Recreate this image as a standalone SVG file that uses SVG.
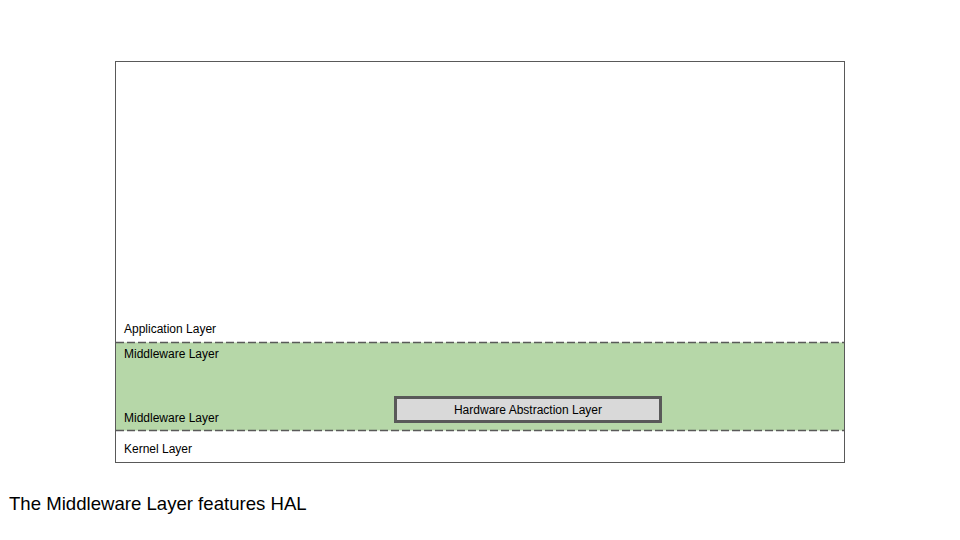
<svg xmlns="http://www.w3.org/2000/svg" width="960" height="540" viewBox="0 0 960 540">
<style>
.lbl{font-family:"Liberation Sans",Arial,sans-serif;font-size:12px;fill:#000}
.dash{stroke:#595959;stroke-width:1.3;stroke-dasharray:8 3;fill:none}
</style>
<rect width="960" height="540" fill="#fff"/>
<g id="outer">
<rect x="115.5" y="61.5" width="729" height="401" fill="#fff" stroke="#595959" stroke-width="1"/>
</g>
<g id="middleware">
<rect x="116" y="342.5" width="728" height="88" fill="#b6d7a8"/>
</g>
<g id="connectors">
<line class="dash" x1="116" y1="342.5" x2="844" y2="342.5"/>
<line class="dash" x1="116" y1="430.5" x2="844" y2="430.5"/>
</g>
<g id="application-label"><text class="lbl" x="124" y="333">Application Layer</text></g>
<g id="middleware-label-top"><text class="lbl" x="124" y="357.5">Middleware Layer</text></g>
<g id="middleware-label-bottom"><text class="lbl" x="124" y="421.5">Middleware Layer</text></g>
<g id="kernel-label"><text class="lbl" x="124" y="452.5">Kernel Layer</text></g>
<g id="hal">
<rect x="395.5" y="397.5" width="265" height="24" fill="#d9d9d9" stroke="#595959" stroke-width="3"/>
<text class="lbl" x="528" y="414" text-anchor="middle">Hardware Abstraction Layer</text>
</g>
<g id="caption"><text x="9" y="510" font-family="'Liberation Sans',Arial,sans-serif" font-size="18.6" fill="#000">The Middleware Layer features HAL</text></g>
</svg>
